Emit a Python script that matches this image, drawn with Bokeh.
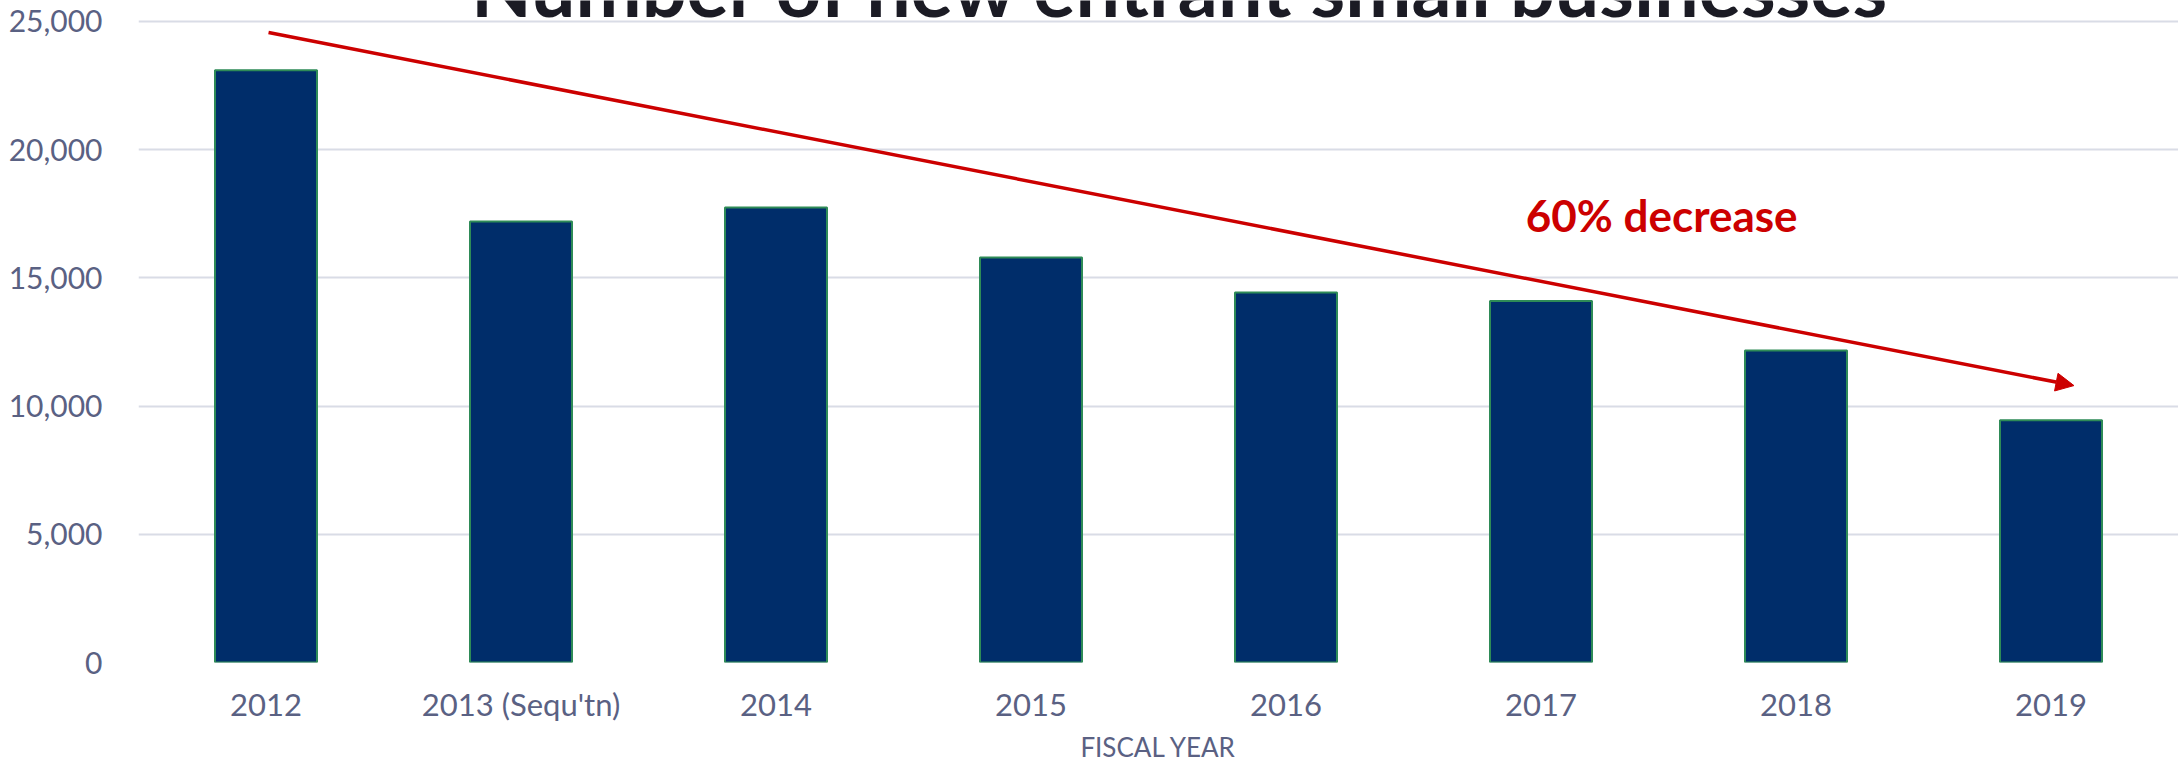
from bokeh.plotting import figure
from bokeh.models import Range1d, FixedTicker, NumeralTickFormatter, Arrow, NormalHead, Label
from bokeh.embed import file_html
from bokeh.resources import INLINE

# ---- data ----
categories = ["2012", "2013 (Sequ'tn)", "2014", "2015", "2016", "2017", "2018", "2019"]
new_entrants = [23100, 17200, 17750, 15800, 14430, 14100, 12170, 9450]
y_ticks = [0, 5000, 10000, 15000, 20000, 25000]

title_text = "Number of new entrant small businesses"
annotation_text = "60% decrease"
x_axis_title = "FISCAL YEAR"

# trend arrow (annotation, data units)
arrow_start = (0.01, 24570)
arrow_end = (7.09, 10800)

label_color = "#5a6183"
xs = list(range(len(categories)))

p = figure(width=2178, height=765, output_backend="svg", toolbar_location=None,
           x_range=Range1d(-0.5, len(categories) - 0.5), y_range=Range1d(0, 25819),
           min_border_left=138, min_border_right=0, min_border_top=0, min_border_bottom=103)

p.vbar(x=xs, top=new_entrants, width=0.4, fill_color="#002D6A",
       line_color="#2E8B57", line_width=2)

p.outline_line_color = None
p.background_fill_color = "white"
p.border_fill_color = "white"

# grid
p.xgrid.grid_line_color = None
p.ygrid.ticker = FixedTicker(ticks=y_ticks)
p.ygrid.grid_line_color = "#D9DCE6"
p.ygrid.grid_line_width = 2

# y axis
p.yaxis.ticker = FixedTicker(ticks=y_ticks)
p.yaxis.formatter = NumeralTickFormatter(format="0,0")
p.yaxis.axis_line_color = None
p.yaxis.major_tick_line_color = None
p.yaxis.minor_tick_line_color = None
p.yaxis.major_tick_out = 0
p.yaxis.major_label_standoff = 36
p.yaxis.major_label_text_font = "Lato"
p.yaxis.major_label_text_font_size = "30px"
p.yaxis.major_label_text_color = label_color

# x axis
p.xaxis.ticker = FixedTicker(ticks=xs)
p.xaxis.major_label_overrides = {i: c for i, c in enumerate(categories)}
p.xaxis.axis_line_color = None
p.xaxis.major_tick_line_color = None
p.xaxis.minor_tick_line_color = None
p.xaxis.major_tick_out = 0
p.xaxis.major_label_standoff = 22
p.xaxis.major_label_text_font = "Lato"
p.xaxis.major_label_text_font_size = "31px"
p.xaxis.major_label_text_color = label_color
p.xaxis.axis_label = x_axis_title
p.xaxis.axis_label_text_font = "Lato"
p.xaxis.axis_label_text_font_style = "normal"
p.xaxis.axis_label_text_font_size = "26px"
p.xaxis.axis_label_text_color = label_color
p.xaxis.axis_label_standoff = 5

# title (partly cut off at the top, as in the reference)
p.add_layout(Label(x=3.59, y=26365, text=title_text, text_font="Lato",
                   text_font_style="bold", text_font_size="79px",
                   text_color="#1b1b24", text_align="center", text_baseline="alphabetic"))

# trend arrow
p.add_layout(Arrow(end=NormalHead(size=18, fill_color="#CC0000", line_color="#CC0000"),
                   x_start=arrow_start[0], y_start=arrow_start[1],
                   x_end=arrow_end[0], y_end=arrow_end[1],
                   line_color="#CC0000", line_width=3.5))

p.add_layout(Label(x=4.94, y=17470, text=annotation_text, text_font="Lato",
                   text_font_style="bold", text_font_size="44px",
                   text_color="#CC0000", text_align="left", text_baseline="middle"))

open("out.html", "w").write(file_html(p, INLINE))
